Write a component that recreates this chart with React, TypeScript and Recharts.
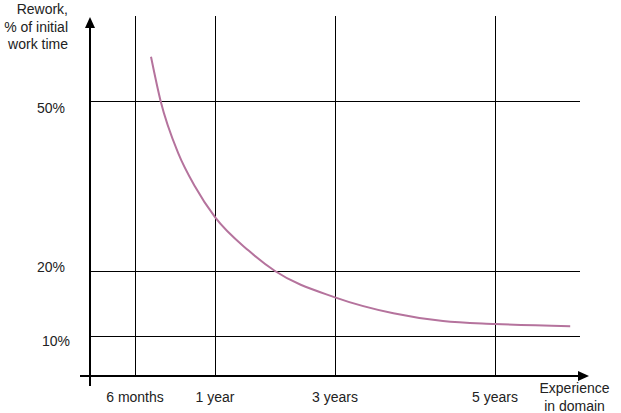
import React from "react";
import {
  LineChart,
  Line,
  XAxis,
  YAxis,
  ReferenceLine,
  ReferenceDot,
} from "recharts";

// experience (years) and rework (% of initial work time)
const YEARS = [0.6, 0.66, 0.77, 0.875, 1.0, 1.56, 2.0, 3.0, 3.73, 4.35, 5.0, 5.94];
const REWORK = [57.8, 50, 40.8, 34.9, 29.5, 23.6, 20, 15.95, 13.5, 12.3, 11.85, 11.5];

const X_TICKS = [0.5, 1, 3, 5];
const X_LABELS = ["6 months", "1 year", "3 years", "5 years"];
const Y_TICKS = [50, 20, 10];
const Y_LABELS = ["50%", "20%", "10%"];
const GRID_END_YEARS = 6.06;

// the schematic axes are not linear: piecewise scale anchors (value -> axis units)
const X_SCALE_IN = [0, 0.5, 1, 3, 5];
const X_SCALE_OUT = [0, 45, 125, 245, 405];
const Y_SCALE_IN = [10, 20, 50];
const Y_SCALE_OUT = [0, 65, 235];

const X_DOMAIN = [-10, 499];
const Y_DOMAIN = [-50, 320];
const X_AXIS_AT = -40;

const warp = (v: number, from: number[], to: number[]) => {
  let i = 0;
  while (i < from.length - 2 && v > from[i + 1]) i++;
  const t = (v - from[i]) / (from[i + 1] - from[i]);
  return to[i] + t * (to[i + 1] - to[i]);
};
const xw = (v: number) => warp(v, X_SCALE_IN, X_SCALE_OUT);
const yw = (v: number) => warp(v, Y_SCALE_IN, Y_SCALE_OUT);

const data = YEARS.map((yr, i) => ({ x: xw(yr), y: yw(REWORK[i]) }));

const FONT = "'Liberation Sans', Arial, Helvetica, sans-serif";
const TEXT = "#222";

// small hand nudges of the y labels as in the drawing
const Y_NUDGE: Record<string, [number, number]> = {
  "50%": [0, 7],
  "20%": [0, -4],
  "10%": [5, 5],
};

const YTick = (props: any) => {
  const { x, y, payload } = props;
  const idx = Y_TICKS.findIndex((t) => Math.abs(yw(t) - payload.value) < 0.01);
  const label = Y_LABELS[idx] ?? "";
  const [dx, dy] = Y_NUDGE[label] ?? [0, 0];
  return (
    <text x={x + dx} y={y + dy} dy="0.355em" textAnchor="end" fill={TEXT} fontSize={14} fontFamily={FONT}>
      {label}
    </text>
  );
};

const xLabel = (v: number) => {
  const idx = X_TICKS.findIndex((t) => Math.abs(xw(t) - v) < 0.01);
  return X_LABELS[idx] ?? "";
};

export default function App() {
  return (
    <div style={{ position: "absolute", left: 0, top: 0, width: 621, height: 413, background: "#fff" }}>
      <LineChart
        width={621}
        height={413}
        data={data}
        margin={{ top: 16, right: 32, left: 10, bottom: 0 }}
      >
        <XAxis
          type="number"
          dataKey="x"
          domain={X_DOMAIN}
          ticks={X_TICKS.map(xw)}
          tickFormatter={xLabel}
          interval={0}
          axisLine={false}
          tickLine={false}
          tickSize={0}
          tickMargin={6}
          height={27}
          allowDataOverflow
          tick={{ fill: TEXT, fontSize: 14, fontFamily: FONT }}
        />
        <YAxis
          type="number"
          domain={Y_DOMAIN}
          ticks={Y_TICKS.map(yw)}
          interval={0}
          axisLine={false}
          tickLine={false}
          tickSize={0}
          tickMargin={15}
          width={70}
          allowDataOverflow
          tick={YTick}
        />

        {Y_TICKS.map((t) => (
          <ReferenceLine
            key={`h${t}`}
            segment={[
              { x: xw(0), y: yw(t) },
              { x: xw(GRID_END_YEARS), y: yw(t) },
            ]}
            stroke="#000"
            strokeWidth={1}
            shapeRendering="crispEdges"
          />
        ))}
        {X_TICKS.map((t) => (
          <ReferenceLine
            key={`v${t}`}
            segment={[
              { x: xw(t), y: X_AXIS_AT },
              { x: xw(t), y: Y_DOMAIN[1] },
            ]}
            stroke="#000"
            strokeWidth={1}
            shapeRendering="crispEdges"
          />
        ))}

        <Line
          type="monotone"
          dataKey="y"
          stroke="#B5739D"
          strokeWidth={2}
          dot={false}
          activeDot={false}
          isAnimationActive={false}
        />

        {/* axes with arrows */}
        <ReferenceLine
          segment={[
            { x: X_DOMAIN[0], y: X_AXIS_AT },
            { x: X_DOMAIN[1] - 6, y: X_AXIS_AT },
          ]}
          stroke="#000"
          strokeWidth={2}
          shapeRendering="crispEdges"
        />
        <ReferenceLine
          segment={[
            { x: 0, y: Y_DOMAIN[0] },
            { x: 0, y: Y_DOMAIN[1] - 7 },
          ]}
          stroke="#000"
          strokeWidth={2}
          shapeRendering="crispEdges"
        />
        <ReferenceDot
          x={X_DOMAIN[1]}
          y={X_AXIS_AT}
          r={5}
          shape={(p: any) => (
            <polygon
              points={`${p.cx},${p.cy} ${p.cx - 11},${p.cy - 5} ${p.cx - 11},${p.cy + 5}`}
              fill="#000"
            />
          )}
        />
        <ReferenceDot
          x={0}
          y={Y_DOMAIN[1] - 1}
          r={5}
          shape={(p: any) => (
            <polygon
              points={`${p.cx},${p.cy} ${p.cx - 5},${p.cy + 11} ${p.cx + 5},${p.cy + 11}`}
              fill="#000"
            />
          )}
        />
      </LineChart>

      <div
        style={{
          position: "absolute",
          left: 0,
          top: 1,
          width: 68,
          textAlign: "right",
          fontFamily: FONT,
          fontSize: 14,
          lineHeight: "17.5px",
          color: TEXT,
        }}
      >
        Rework,
        <br />% of initial
        <br />
        work time
      </div>
      <div
        style={{
          position: "absolute",
          left: 524,
          top: 379,
          width: 101,
          textAlign: "center",
          fontFamily: FONT,
          fontSize: 14,
          lineHeight: "18px",
          color: TEXT,
        }}
      >
        Experience
        <br />
        in domain
      </div>
    </div>
  );
}
